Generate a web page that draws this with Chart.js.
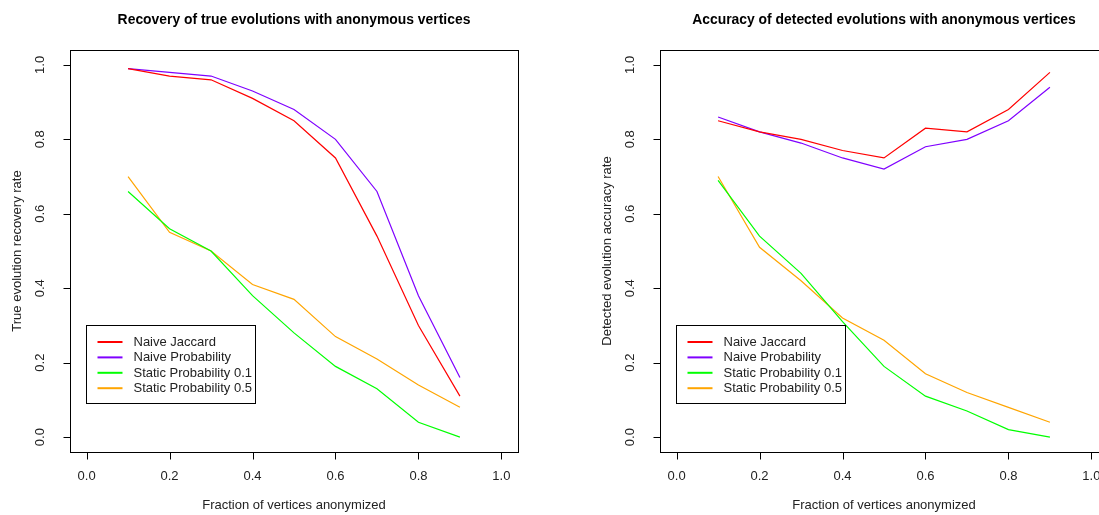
<!DOCTYPE html>
<html>
<head>
<meta charset="utf-8">
<script src="https://cdn.jsdelivr.net/npm/chart.js@4.4.1/dist/chart.umd.min.js"></script>
<style>
  html, body { margin: 0; padding: 0; background: #ffffff; overflow: hidden; width: 1099px; height: 515px; }
  canvas { position: absolute; top: 0; }
  #c1 { left: 0px; }
  #c2 { left: 549px; }
</style>
</head>
<body>
<canvas id="c1" width="549" height="515"></canvas>
<canvas id="c2" width="600" height="515"></canvas>
<script>
// ---- data ----
const fractions = [0.1, 0.2, 0.3, 0.4, 0.5, 0.6, 0.7, 0.8, 0.9];
const seriesNames = ["Naive Jaccard", "Naive Probability", "Static Probability 0.1", "Static Probability 0.5"];
const seriesColors = ["#ff0000", "#7f00ff", "#00ff00", "#ffa500"];

const recoveryJaccard   = [0.99, 0.97, 0.96, 0.91, 0.85, 0.75, 0.54, 0.30, 0.11];
const recoveryProb      = [0.99, 0.98, 0.97, 0.93, 0.88, 0.80, 0.66, 0.38, 0.16];
const recoveryStatic01  = [0.66, 0.56, 0.50, 0.38, 0.28, 0.19, 0.13, 0.04, 0.00];
const recoveryStatic05  = [0.70, 0.55, 0.50, 0.41, 0.37, 0.27, 0.21, 0.14, 0.08];

const accuracyJaccard   = [0.85, 0.82, 0.80, 0.77, 0.75, 0.83, 0.82, 0.88, 0.98];
const accuracyProb      = [0.86, 0.82, 0.79, 0.75, 0.72, 0.78, 0.80, 0.85, 0.94];
const accuracyStatic01  = [0.69, 0.54, 0.44, 0.31, 0.19, 0.11, 0.07, 0.02, 0.00];
const accuracyStatic05  = [0.70, 0.51, 0.42, 0.32, 0.26, 0.17, 0.12, 0.08, 0.04];

const xTickValues = [0, 0.2, 0.4, 0.6, 0.8, 1.0];
const xTickLabels = ["0.0", "0.2", "0.4", "0.6", "0.8", "1.0"];
const yTickValues = [0, 0.2, 0.4, 0.6, 0.8, 1.0];
const yTickLabels = ["0.0", "0.2", "0.4", "0.6", "0.8", "1.0"];

const FONT = '"Liberation Sans", Arial, Helvetica, sans-serif';

function makeDatasets(arrs) {
  return arrs.map((arr, i) => ({
    label: seriesNames[i],
    data: fractions.map((x, j) => ({ x: x, y: arr[j] })),
    borderColor: seriesColors[i],
    backgroundColor: seriesColors[i],
    borderWidth: 1.2,
    pointRadius: 0,
    tension: 0,
    fill: false
  }));
}

const rStylePlugin = {
  id: 'rstyle',
  afterDraw(chart, args, opts) {
    const ctx = chart.ctx;
    const a = chart.chartArea;
    const xs = chart.scales.x, ys = chart.scales.y;
    ctx.save();
    // box
    ctx.strokeStyle = '#000';
    ctx.lineWidth = 1;
    const L = Math.round(a.left) + 0.5, T = Math.round(a.top) + 0.5;
    const R = Math.round(a.right) + 0.5, B = Math.round(a.bottom) + 0.5;
    ctx.strokeRect(L, T, R - L, B - T);
    // x axis ticks
    ctx.beginPath();
    const x0 = Math.round(xs.getPixelForValue(xTickValues[0])) + 0.5;
    const x1 = Math.round(xs.getPixelForValue(xTickValues[xTickValues.length - 1])) + 0.5;
    ctx.moveTo(x0, B); ctx.lineTo(x1, B);
    xTickValues.forEach(v => {
      const px = Math.round(xs.getPixelForValue(v)) + 0.5;
      ctx.moveTo(px, B); ctx.lineTo(px, B + 7);
    });
    // y axis ticks
    const y0 = Math.round(ys.getPixelForValue(yTickValues[0])) + 0.5;
    const y1 = Math.round(ys.getPixelForValue(yTickValues[yTickValues.length - 1])) + 0.5;
    ctx.moveTo(L, y0); ctx.lineTo(L, y1);
    yTickValues.forEach(v => {
      const py = Math.round(ys.getPixelForValue(v)) + 0.5;
      ctx.moveTo(L, py); ctx.lineTo(L - 7, py);
    });
    ctx.stroke();

    ctx.fillStyle = '#222';
    ctx.font = '13px ' + FONT;
    ctx.textAlign = 'center';
    ctx.textBaseline = 'middle';
    xTickValues.forEach((v, i) => {
      ctx.fillText(xTickLabels[i], xs.getPixelForValue(v), B + 24);
    });
    yTickValues.forEach((v, i) => {
      ctx.save();
      ctx.translate(L - 30, ys.getPixelForValue(v));
      ctx.rotate(-Math.PI / 2);
      ctx.fillText(yTickLabels[i], 0, 0);
      ctx.restore();
    });
    // axis titles
    const cx = (a.left + a.right) / 2;
    ctx.fillText(opts.xTitle, cx, B + 53);
    ctx.save();
    ctx.translate(L - 53, (a.top + a.bottom) / 2);
    ctx.rotate(-Math.PI / 2);
    ctx.fillText(opts.yTitle, 0, 0);
    ctx.restore();
    // main title
    ctx.fillStyle = '#000';
    ctx.font = 'bold 13.9px ' + FONT;
    ctx.fillText(opts.title, cx, 20);

    // legend
    const lx = L + 16, ly = 325.5, lw = 169, lh = 78;
    ctx.fillStyle = '#fff';
    ctx.fillRect(lx, ly, lw, lh);
    ctx.strokeStyle = '#000';
    ctx.lineWidth = 1;
    ctx.strokeRect(lx, ly, lw, lh);
    ctx.font = '13px ' + FONT;
    ctx.textAlign = 'left';
    chart.data.datasets.forEach((ds, i) => {
      const yy = ly + 16.5 + i * 15.4;
      ctx.strokeStyle = ds.borderColor;
      ctx.lineWidth = 2;
      ctx.beginPath();
      ctx.moveTo(lx + 11, yy); ctx.lineTo(lx + 36, yy);
      ctx.stroke();
      ctx.fillStyle = '#222';
      ctx.fillText(ds.label, lx + 47, yy + 0.5);
    });
    ctx.restore();
  }
};

function makeChart(id, arrs, padding, opts) {
  return new Chart(document.getElementById(id), {
    type: 'line',
    data: { datasets: makeDatasets(arrs) },
    options: {
      responsive: false,
      animation: false,
      devicePixelRatio: 1,
      layout: { padding: padding },
      scales: {
        x: { type: 'linear', min: -0.04, max: 1.04, display: false },
        y: { type: 'linear', min: -0.04, max: 1.04, display: false }
      },
      plugins: {
        legend: { display: false },
        title: { display: false },
        tooltip: { enabled: false },
        rstyle: opts
      }
    },
    plugins: [rStylePlugin]
  });
}

makeChart('c1', [recoveryJaccard, recoveryProb, recoveryStatic01, recoveryStatic05],
  { left: 70, right: 31, top: 50, bottom: 63 },
  { title: 'Recovery of true evolutions with anonymous vertices',
    xTitle: 'Fraction of vertices anonymized',
    yTitle: 'True evolution recovery rate' });

makeChart('c2', [accuracyJaccard, accuracyProb, accuracyStatic01, accuracyStatic05],
  { left: 111, right: 41, top: 50, bottom: 63 },
  { title: 'Accuracy of detected evolutions with anonymous vertices',
    xTitle: 'Fraction of vertices anonymized',
    yTitle: 'Detected evolution accuracy rate' });
</script>
</body>
</html>
